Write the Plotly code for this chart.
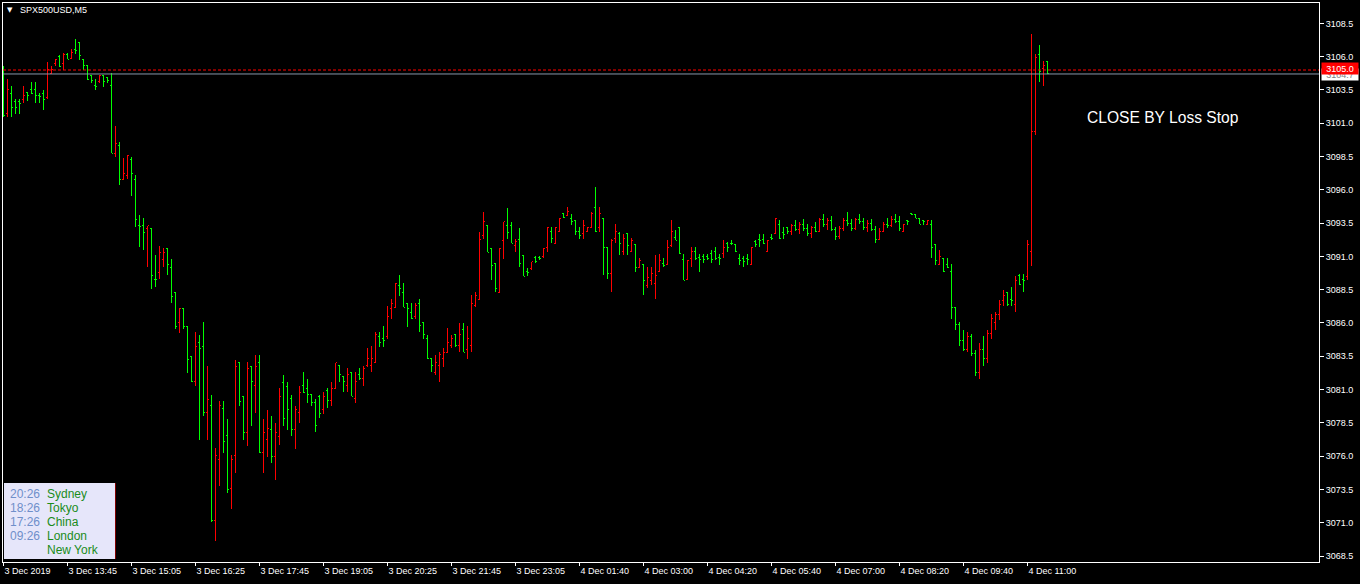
import plotly.graph_objects as go

# ---------------- data ----------------
opens = [
 3105.2,3101.7,3103.2,3102.6,3102.6,3102.8,3103.3,3103.5,3103.5,3103.1,
 3103.2,3102.9,3104.75,3105.5,3106.0,3105.5,3106.2,3105.85,3106.55,3107.1,
 3105.8,3105.3,3104.6,3103.8,3104.1,3104.6,3104.45,3103.8,3098.75,3099.3,
 3096.8,3097.1,3098.3,3096.8,3093.3,3093.3,3093.1,3093.1,3089.3,3089.8,
 3090.8,3091.6,3090.2,3088.3,3086.0,3087.1,3085.75,3083.5,3081.6,3084.55,
 3084.25,3079.3,3079.8,3071.2,3075.75,3079.6,3077.55,3073.6,3076.05,3083.0,
 3080.5,3077.8,3082.75,3081.3,3083.05,3076.3,3077.25,3078.0,3076.0,3077.5,
 3081.5,3081.2,3080.3,3078.0,3079.3,3081.3,3081.1,3080.6,3080.0,3080.5,
 3079.5,3080.9,3080.2,3081.1,3082.8,3082.0,3081.3,3082.3,3080.3,3082.1,
 3081.8,3082.8,3082.8,3083.0,3085.0,3084.8,3085.0,3087.1,3087.2,3088.8,
 3088.3,3087.5,3086.8,3086.5,3087.5,3086.0,3084.8,3083.3,3082.3,3082.8,
 3083.3,3083.8,3084.3,3085.1,3084.3,3085.5,3084.0,3084.3,3087.3,3087.8,
 3092.6,3093.3,3091.6,3090.5,3088.3,3092.2,3093.3,3093.3,3091.8,3092.3,
 3091.1,3089.85,3090.1,3090.9,3090.9,3091.0,3091.7,3092.85,3092.0,3092.85,
 3094.2,3094.1,3093.85,3093.7,3092.85,3092.7,3092.85,3093.2,3094.7,3093.2,
 3093.85,3091.7,3089.7,3092.35,3092.7,3091.35,3092.7,3091.35,3091.9,3090.2,
 3090.4,3088.85,3089.2,3089.0,3089.9,3090.5,3090.4,3091.8,3092.4,3093.2,
 3090.8,3089.3,3090.85,3091.35,3090.9,3091.0,3091.0,3091.2,3091.4,3090.9,
 3091.2,3092.0,3092.0,3091.9,3090.85,3090.85,3090.85,3090.4,3092.1,3092.3,
 3092.3,3091.35,3092.4,3092.7,3093.4,3092.8,3093.2,3092.85,3093.3,3093.0,
 3093.4,3093.1,3092.7,3093.2,3092.9,3093.8,3093.4,3093.7,3093.0,3092.5,
 3093.1,3093.7,3093.5,3093.1,3093.8,3093.6,3093.2,3093.5,3093.0,3092.3,
 3092.9,3093.4,3093.3,3093.8,3093.6,3092.85,3093.7,3094.2,3094.15,3093.85,
 3093.7,3093.4,3093.4,3091.9,3090.4,3090.85,3090.4,3089.9,3087.2,3085.9,
 3084.7,3084.0,3085.0,3083.7,3082.3,3084.0,3083.3,3085.2,3086.0,3086.6,
 3087.7,3088.3,3087.75,3087.4,3089.6,3089.25,3089.5,3091.35,3100.4,3106.2,
 3105.1,3105.6,
]
highs = [
 3105.3,3104.3,3103.8,3102.8,3102.8,3103.8,3103.3,3104.1,3104.1,3103.3,
 3103.5,3105.6,3105.3,3105.85,3106.15,3106.25,3106.25,3106.55,3107.3,3107.1,
 3105.8,3105.3,3104.6,3104.3,3104.6,3104.6,3104.45,3104.75,3100.8,3099.6,
 3098.4,3098.6,3098.5,3097.1,3094.1,3093.9,3093.3,3093.1,3091.1,3091.8,
 3091.6,3091.6,3090.8,3088.3,3087.1,3087.1,3085.75,3083.55,3085.3,3085.1,
 3086.05,3082.75,3080.6,3076.6,3080.15,3080.15,3078.8,3076.05,3083.25,3083.0,
 3080.5,3083.05,3082.75,3083.6,3083.6,3078.8,3079.5,3079.0,3078.5,3081.1,
 3082.1,3081.6,3080.6,3079.8,3081.3,3082.3,3081.8,3080.6,3080.3,3080.6,
 3080.8,3081.1,3081.6,3083.0,3082.8,3082.0,3082.6,3082.3,3082.3,3082.6,
 3082.8,3084.1,3084.3,3085.3,3085.3,3085.8,3087.3,3087.8,3089.0,3089.6,
 3089.0,3087.5,3087.5,3087.5,3087.8,3086.0,3085.1,3083.3,3083.6,3083.8,
 3084.1,3085.6,3085.1,3085.1,3086.0,3086.0,3085.8,3088.1,3088.3,3092.8,
 3094.3,3093.3,3091.6,3090.5,3091.6,3093.6,3094.6,3093.6,3092.3,3093.1,
 3091.1,3090.1,3090.6,3091.05,3091.05,3091.6,3093.2,3093.2,3093.2,3093.85,
 3094.2,3094.7,3094.2,3093.7,3093.2,3093.7,3093.2,3094.3,3096.2,3094.7,
 3093.85,3091.7,3092.3,3093.4,3092.85,3092.7,3092.7,3092.35,3091.9,3090.85,
 3090.4,3090.2,3090.2,3091.1,3091.2,3090.85,3092.2,3093.7,3092.95,3093.2,
 3091.2,3090.7,3091.7,3091.7,3091.2,3091.2,3091.2,3091.5,3091.7,3091.2,
 3092.2,3092.05,3092.2,3091.9,3091.2,3091.0,3091.2,3091.7,3092.2,3092.7,
 3092.7,3092.2,3092.7,3093.85,3093.7,3093.2,3093.2,3093.4,3093.7,3093.6,
 3093.8,3093.4,3093.3,3093.6,3093.9,3094.2,3093.9,3094.0,3093.2,3093.3,
 3093.9,3094.3,3093.8,3093.9,3094.2,3093.9,3093.7,3093.8,3093.3,3093.1,
 3093.6,3093.9,3094.0,3094.2,3094.0,3093.45,3093.75,3094.2,3094.15,3093.85,
 3093.7,3093.75,3093.75,3091.9,3091.5,3090.85,3090.85,3090.4,3087.2,3086.1,
 3085.5,3085.3,3085.2,3084.0,3084.5,3085.0,3085.5,3086.7,3086.8,3087.7,
 3088.5,3088.3,3088.7,3089.5,3089.7,3089.7,3092.2,3107.7,3106.2,3106.9,
 3105.65,3105.65,
]
lows = [
 3101.5,3101.5,3101.5,3101.7,3101.7,3102.5,3102.7,3103.2,3102.5,3102.5,
 3102.0,3102.8,3104.7,3105.3,3105.25,3105.0,3105.8,3105.8,3106.2,3105.75,
 3105.0,3104.25,3104.0,3103.5,3104.0,3103.75,3104.0,3098.75,3098.5,3096.4,
 3096.8,3096.8,3095.5,3093.2,3091.7,3091.5,3090.2,3088.55,3088.7,3089.3,
 3090.2,3089.6,3087.5,3085.55,3085.25,3085.55,3082.25,3081.6,3081.3,3077.2,
 3079.05,3077.2,3071.05,3069.6,3073.75,3076.25,3073.25,3072.05,3074.75,3079.75,
 3077.2,3076.75,3078.25,3079.25,3076.25,3074.75,3075.95,3075.5,3074.2,3076.8,
 3078.3,3078.0,3077.5,3076.5,3078.5,3080.75,3080.0,3079.8,3077.8,3078.9,
 3079.2,3079.6,3079.8,3081.1,3081.6,3080.8,3080.8,3080.5,3080.0,3081.7,
 3081.3,3082.7,3082.3,3083.0,3084.2,3084.2,3084.8,3086.3,3087.2,3088.0,
 3087.2,3085.7,3086.3,3086.3,3085.3,3084.8,3083.3,3082.3,3082.1,3081.6,
 3082.7,3083.8,3084.1,3084.2,3083.8,3083.8,3083.3,3083.8,3087.2,3087.8,
 3092.3,3091.3,3089.2,3088.3,3088.3,3090.8,3092.3,3092.0,3091.3,3090.2,
 3089.5,3089.5,3090.0,3090.5,3090.7,3090.9,3091.3,3092.0,3092.0,3092.85,
 3093.85,3094.1,3093.35,3092.6,3092.3,3092.3,3092.85,3093.1,3092.85,3092.85,
 3089.6,3089.3,3088.3,3091.97,3091.1,3091.1,3091.1,3091.35,3089.8,3090.15,
 3088.1,3088.6,3088.85,3087.8,3089.85,3090.2,3090.35,3091.7,3092.2,3091.2,
 3089.2,3089.2,3090.2,3090.7,3089.85,3090.5,3090.7,3090.5,3090.7,3090.35,
 3090.85,3091.35,3091.85,3091.35,3090.35,3090.2,3090.35,3090.35,3091.7,3091.7,
 3091.9,3091.35,3092.2,3092.7,3092.3,3092.3,3092.7,3092.6,3092.9,3092.7,
 3092.9,3092.5,3092.4,3092.8,3092.8,3093.2,3093.0,3092.9,3092.2,3092.3,
 3092.9,3093.3,3092.9,3093.0,3093.4,3093.0,3092.8,3092.9,3092.0,3092.2,
 3092.8,3093.1,3093.2,3093.5,3092.9,3092.85,3093.35,3094.1,3093.85,3093.4,
 3093.35,3093.35,3090.85,3090.35,3090.35,3089.85,3090.15,3086.3,3085.5,3084.3,
 3083.9,3083.8,3083.5,3082.0,3081.8,3082.8,3083.0,3084.8,3085.5,3086.2,
 3087.3,3087.3,3087.3,3086.8,3088.85,3088.35,3089.2,3090.3,3100.1,3104.1,
 3103.8,3104.7,
]
closes = [
 3101.6,3103.5,3102.2,3102.2,3102.5,3103.1,3103.1,3103.2,3103.1,3103.0,
 3102.8,3105.0,3105.0,3105.8,3105.25,3106.2,3105.8,3106.3,3106.5,3106.1,
 3105.3,3104.25,3104.2,3103.75,3104.6,3104.1,3104.2,3098.75,3099.5,3096.8,
 3097.2,3098.6,3097.2,3093.8,3093.25,3092.8,3093.3,3089.6,3089.25,3091.3,
 3091.3,3090.4,3088.0,3085.7,3087.1,3085.7,3083.25,3081.6,3084.25,3084.1,
 3079.3,3080.25,3071.2,3076.05,3079.8,3077.1,3073.5,3075.75,3082.75,3080.1,
 3077.8,3082.6,3081.6,3082.75,3076.25,3077.8,3078.05,3076.0,3077.8,3080.5,
 3078.8,3079.5,3078.0,3079.5,3080.8,3080.8,3080.6,3080.0,3078.3,3079.2,
 3080.5,3080.2,3081.1,3083.0,3082.1,3081.6,3082.1,3080.5,3081.6,3081.8,
 3082.6,3083.3,3083.3,3085.1,3084.5,3084.7,3086.5,3087.5,3089.0,3088.6,
 3087.2,3087.1,3086.3,3087.3,3085.8,3085.1,3083.3,3082.8,3083.0,3083.6,
 3083.8,3084.5,3084.8,3084.3,3085.1,3083.8,3084.8,3087.5,3088.1,3092.3,
 3093.6,3091.3,3090.3,3088.6,3091.6,3093.6,3092.8,3092.0,3092.1,3090.5,
 3089.5,3089.8,3090.6,3090.6,3090.85,3091.6,3093.2,3092.35,3093.2,3093.85,
 3093.9,3094.4,3093.6,3092.85,3092.6,3093.35,3093.2,3094.2,3092.85,3094.2,
 3091.7,3089.7,3092.2,3092.9,3092.0,3092.35,3091.85,3092.2,3090.2,3090.7,
 3089.2,3089.4,3089.7,3089.6,3090.7,3090.35,3091.7,3092.9,3092.2,3091.2,
 3089.2,3090.7,3091.35,3090.85,3090.8,3090.8,3090.85,3090.8,3090.85,3090.85,
 3091.7,3091.7,3091.95,3091.35,3090.7,3090.6,3090.8,3091.7,3091.9,3092.2,
 3091.95,3092.2,3092.35,3093.85,3092.35,3092.65,3092.85,3093.3,3093.0,3093.4,
 3093.1,3092.7,3093.2,3092.9,3093.8,3093.4,3093.7,3093.0,3092.5,3093.1,
 3093.7,3093.5,3093.1,3093.8,3093.6,3093.2,3093.5,3093.0,3092.3,3092.9,
 3093.4,3093.3,3093.8,3093.6,3093.1,3093.4,3093.6,3094.15,3093.85,3093.4,
 3093.65,3093.7,3091.7,3090.7,3091.0,3089.9,3090.2,3087.2,3085.9,3084.7,
 3084.0,3085.0,3083.7,3082.3,3084.0,3083.3,3085.2,3086.3,3086.6,3087.4,
 3088.1,3087.4,3087.7,3089.2,3088.9,3089.2,3091.9,3100.4,3105.9,3104.9,
 3105.35,3104.7,
]

tick_index = [0, 16, 32, 48, 64, 80, 96, 112, 128, 144, 160, 176, 192, 208, 224, 240, 256]
tick_labels = ["3 Dec 2019", "3 Dec 13:45", "3 Dec 15:05", "3 Dec 16:25", "3 Dec 17:45",
               "3 Dec 19:05", "3 Dec 20:25", "3 Dec 21:45", "3 Dec 23:05", "4 Dec 01:40",
               "4 Dec 03:00", "4 Dec 04:20", "4 Dec 05:40", "4 Dec 07:00", "4 Dec 08:20",
               "4 Dec 09:40", "4 Dec 11:00"]
price_ticks = [3068.5 + 2.5 * k for k in range(17)]

ask_price = 3105.0
bid_price = 3104.7
session_times = ["20:26", "18:26", "17:26", "09:26", ""]
session_cities = ["Sydney", "Tokyo", "China", "London", "New York"]
symbol_title = "SPX500USD,M5"
note_text = "CLOSE BY Loss Stop"

# ---------------- figure ----------------
W, H = 1360, 584
ML, MR, MT, MB = 3, 41, 3, 22
PW, PH = W - ML - MR, H - MT - MB


def px(xp):
    return (xp - ML) / PW


def py(yp):
    return (H - MB - yp) / PH


bar_index = list(range(len(opens)))

fig = go.Figure(go.Ohlc(
    x=bar_index, open=opens, high=highs, low=lows, close=closes,
    increasing=dict(line=dict(color="#ff0000", width=1)),
    decreasing=dict(line=dict(color="#00ff00", width=1)),
    tickwidth=0.3, hoverinfo="skip", showlegend=False,
))

font_main = "Liberation Sans, Arial, sans-serif"

fig.update_layout(
    width=W, height=H, autosize=False,
    margin=dict(l=ML, r=MR, t=MT, b=MB, pad=0),
    paper_bgcolor="#000000", plot_bgcolor="#000000",
    font=dict(family=font_main, color="#ffffff", size=9),
    showlegend=False,
    xaxis=dict(
        range=[-0.125, 328.875], showgrid=False, zeroline=False,
        rangeslider=dict(visible=False),
        tickmode="array", tickvals=tick_index, ticktext=tick_labels,
        ticks="outside", ticklen=3, tickcolor="#ffffff", tickwidth=1,
        ticklabelposition="outside right",
        showline=True, linecolor="#ffffff", linewidth=1, mirror=True,
        tickfont=dict(size=9, color="#ffffff", family=font_main),
        fixedrange=True,
    ),
    yaxis=dict(
        range=[3068.05, 3110.03], side="right", showgrid=False, zeroline=False,
        tickmode="array", tickvals=price_ticks,
        ticktext=[f"{v:.1f}" for v in price_ticks],
        ticks="outside", ticklen=4, tickcolor="#ffffff", tickwidth=1,
        showline=True, linecolor="#ffffff", linewidth=1, mirror=True,
        tickfont=dict(size=9, color="#ffffff", family=font_main),
        fixedrange=True,
    ),
)

# bid / ask lines
fig.add_shape(type="line", xref="paper", x0=0, x1=1, yref="y", y0=bid_price, y1=bid_price,
              line=dict(color="#8898aa", width=1))
fig.add_shape(type="line", xref="paper", x0=0, x1=1, yref="y", y0=ask_price, y1=ask_price,
              line=dict(color="#ff0000", width=1.2, dash="3px,2px"))

# price labels on the right axis
fig.add_annotation(xref="paper", x=1, xanchor="left", xshift=2, yref="y", y=bid_price,
                   yanchor="middle", yshift=-1, text=f"{bid_price:.1f}", showarrow=False,
                   bgcolor="#ffffff", font=dict(color="#808080", size=9, family=font_main),
                   width=36, height=11, borderpad=0, align="center")
fig.add_annotation(xref="paper", x=1, xanchor="left", xshift=2, yref="y", y=ask_price,
                   yanchor="middle", yshift=1, text=f"{ask_price:.1f}", showarrow=False,
                   bgcolor="#ff0000", font=dict(color="#ffffff", size=9, family=font_main),
                   width=36, height=11, borderpad=0, align="center")

# title top-left
fig.add_annotation(xref="paper", yref="paper", x=px(5), y=py(10), xanchor="left", yanchor="middle",
                   text="▼", showarrow=False, font=dict(color="#ffffff", size=7, family="DejaVu Sans"))
fig.add_annotation(xref="paper", yref="paper", x=px(18), y=py(10), xanchor="left", yanchor="middle",
                   text=symbol_title, showarrow=False, font=dict(color="#ffffff", size=9, family=font_main))

# note text
fig.add_annotation(xref="paper", yref="paper", x=px(1085), y=py(117), xanchor="left", yanchor="middle",
                   text=note_text, showarrow=False, font=dict(color="#ffffff", size=15.6, family=font_main))

# session clock box
fig.add_shape(type="rect", xref="paper", yref="paper", x0=px(4), x1=px(116), y0=py(559), y1=py(483),
              fillcolor="#e6e6fa", line=dict(width=0), layer="above")
fig.add_shape(type="line", xref="paper", yref="paper", x0=px(115.5), x1=px(115.5), y0=py(559), y1=py(483),
              line=dict(color="#800000", width=1), layer="above")
for k, (t, c) in enumerate(zip(session_times, session_cities)):
    yc = 494 + 14 * k
    if t:
        fig.add_annotation(xref="paper", yref="paper", x=px(8), y=py(yc), xanchor="left", yanchor="middle",
                           text=t, showarrow=False, font=dict(color="#6f8fca", size=12, family=font_main))
    fig.add_annotation(xref="paper", yref="paper", x=px(45), y=py(yc), xanchor="left", yanchor="middle",
                       text=c, showarrow=False, font=dict(color="#1a8c1a", size=12, family=font_main))

post = (
    "document.body.style.margin='0';document.body.style.overflow='hidden';"
    "document.querySelectorAll('.ohlc path').forEach(function(p){"
    "p.style.shapeRendering='crispEdges';});"
)
fig.write_html("out.html", config={"displayModeBar": False}, post_script=post)
